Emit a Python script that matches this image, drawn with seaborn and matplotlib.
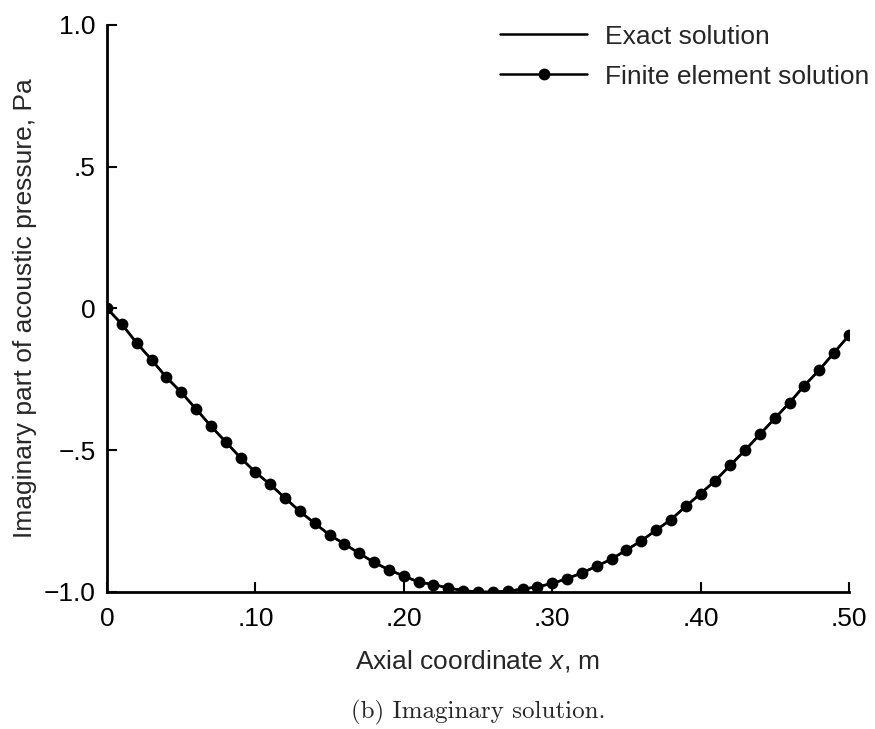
import numpy as np
import pandas as pd
import matplotlib
matplotlib.use('Agg')
import matplotlib.pyplot as plt
import seaborn as sns

# Axial positions (m) and imaginary pressure (Pa)
x_pos = [0.00, 0.01, 0.02, 0.03, 0.04, 0.05, 0.06, 0.07, 0.08, 0.09,
         0.10, 0.11, 0.12, 0.13, 0.14, 0.15, 0.16, 0.17, 0.18, 0.19,
         0.20, 0.21, 0.22, 0.23, 0.24, 0.25, 0.26, 0.27, 0.28, 0.29,
         0.30, 0.31, 0.32, 0.33, 0.34, 0.35, 0.36, 0.37, 0.38, 0.39,
         0.40, 0.41, 0.42, 0.43, 0.44, 0.45, 0.46, 0.47, 0.48, 0.49, 0.50]
p_fem = [0.000, -0.056, -0.122, -0.181, -0.243, -0.296, -0.355, -0.415, -0.471, -0.527,
         -0.578, -0.621, -0.669, -0.716, -0.758, -0.799, -0.831, -0.864, -0.896, -0.922,
         -0.944, -0.965, -0.974, -0.986, -0.995, -1.000, -1.000, -0.997, -0.990, -0.982,
         -0.970, -0.953, -0.933, -0.909, -0.884, -0.852, -0.820, -0.782, -0.745, -0.698,
         -0.653, -0.607, -0.553, -0.500, -0.444, -0.388, -0.332, -0.272, -0.217, -0.156, -0.095]
p_exact = p_fem

x_ticks = [0, 0.10, 0.20, 0.30, 0.40, 0.50]
x_ticklabels = ['0', '.10', '.20', '.30', '.40', '.50']
y_ticks = [-1.0, -0.5, 0, 0.5, 1.0]
y_ticklabels = ['\u22121.0', '\u2212.5', '0', '.5', '1.0']

df = pd.DataFrame({'x': x_pos, 'exact': p_exact, 'fem': p_fem})

sns.set_style('ticks')
plt.rcParams['font.family'] = ['Liberation Sans', 'DejaVu Sans']
plt.rcParams['mathtext.fontset'] = 'custom'
plt.rcParams['mathtext.it'] = 'Liberation Sans:italic'
plt.rcParams['mathtext.rm'] = 'Liberation Sans'

fs = 19

fig = plt.figure(figsize=(8.75, 7.29), dpi=100)
ax = fig.add_axes([0.1223, 0.188, 0.848, 0.778])

sns.lineplot(data=df, x='x', y='exact', ax=ax, color='black', linewidth=1.8,
             label='Exact solution')
sns.lineplot(data=df, x='x', y='fem', ax=ax, color='black', linewidth=1.8,
             marker='o', markersize=8.5, markeredgewidth=0,
             label='Finite element solution')

ax.set_xlim(0, 0.5)
ax.set_ylim(-1.0, 1.0)
ax.set_xticks(x_ticks)
ax.set_xticklabels(x_ticklabels)
ax.set_yticks(y_ticks)
ax.set_yticklabels(y_ticklabels)
ax.tick_params(direction='in', length=7.5, width=1.5, labelsize=fs, colors='black')
ax.tick_params(axis='x', pad=11)
ax.tick_params(axis='y', pad=8)
sns.despine(ax=ax)
for s in ['left', 'bottom']:
    ax.spines[s].set_linewidth(2)
    ax.spines[s].set_color('black')

ax.set_xlabel('Axial coordinate $x$, m', fontsize=fs, labelpad=12)
ax.set_ylabel('Imaginary part of acoustic pressure, Pa', fontsize=fs, labelpad=5)

leg = ax.legend(loc='upper right', bbox_to_anchor=(1.002, 0.977),
                bbox_transform=fig.transFigure, frameon=False, fontsize=fs,
                handlelength=3.3, handletextpad=0.65, labelspacing=0.6,
                borderaxespad=0.0, borderpad=0.3)

fig.text(0.546, 0.006, '(b) Imaginary solution.', family='cmr10', fontsize=18,
         ha='center', va='bottom')

fig.savefig('out.png', dpi=100)
